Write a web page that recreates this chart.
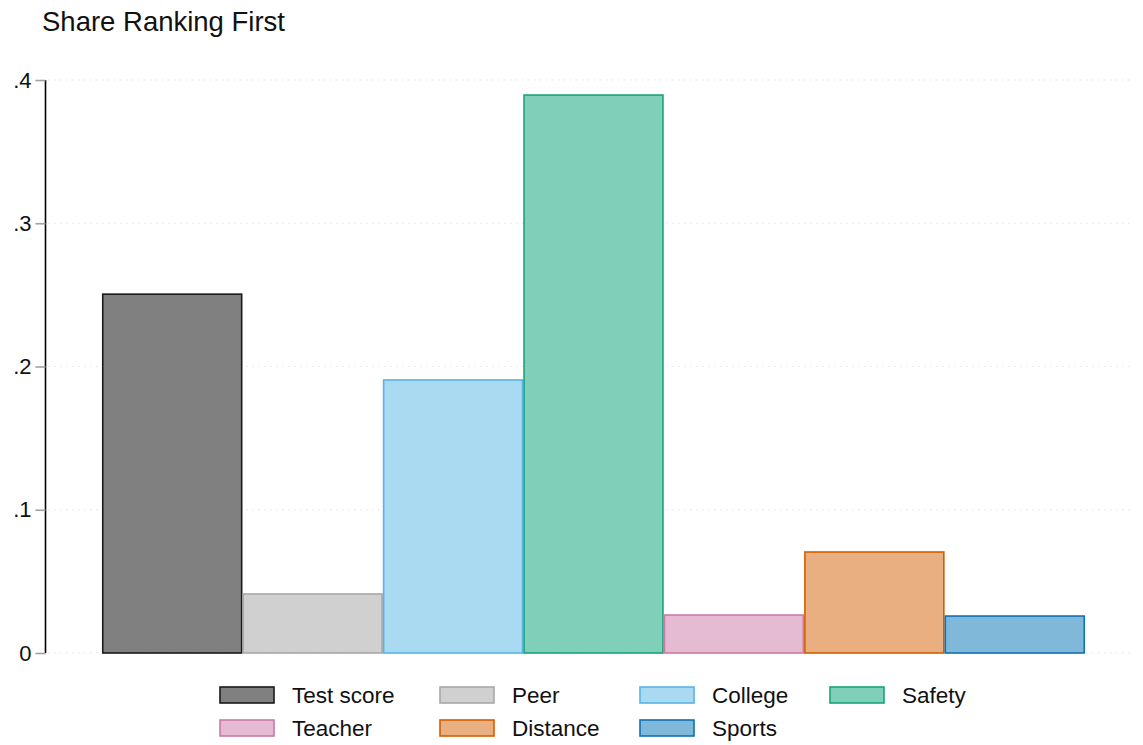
<!DOCTYPE html>
<html>
<head>
<meta charset="utf-8">
<script src="https://cdn.jsdelivr.net/npm/d3@7"></script>
<style>
  body { margin: 0; background: #fff; }
  svg { display: block; font-family: "Liberation Sans", Arial, sans-serif; }
</style>
</head>
<body>
<div id="chart"></div>
<script>
const categories = ["Test score", "Peer", "College", "Safety", "Teacher", "Distance", "Sports"];
const shares = [0.2505, 0.0412, 0.1906, 0.3895, 0.0265, 0.0705, 0.0258];
const y_ticks = [0, 0.1, 0.2, 0.3, 0.4];
const y_tick_labels = ["0", ".1", ".2", ".3", ".4"];
const fills = ["#808080", "#d0d0d0", "#aadaf2", "#80d0b9", "#e5bbd3", "#e9af81", "#80b8da"];
const strokes = ["#1a1a1a", "#a8a8a8", "#58b4e6", "#1aa37a", "#cc79a7", "#d55e00", "#0e72b2"];

const width = 1143;
const height = 745;

const svg = d3
  .select("#chart")
  .append("svg")
  .attr("width", width)
  .attr("height", height);

svg
  .append("text")
  .attr("x", 42)
  .attr("y", 31)
  .style("font-size", "27.5px")
  .style("fill", "#111")
  .text("Share Ranking First");

const y = d3
  .scaleLinear()
  .domain([0, 0.4])
  .range([653, 80]);

// bars sit inside the plot with outer gaps
const x = d3
  .scaleBand()
  .domain(categories)
  .range([102, 1085])
  .paddingInner(0);

// dotted gridlines
svg
  .append("g")
  .selectAll("line")
  .data(y_ticks)
  .enter()
  .append("line")
  .attr("x1", 48)
  .attr("x2", 1133)
  .attr("y1", (d) => y(d))
  .attr("y2", (d) => y(d))
  .attr("stroke", "#e3e3e3")
  .attr("stroke-width", 1)
  .attr("stroke-dasharray", "1.5,4.5");

const data = categories.map((c, i) => ({ cat: c, value: shares[i], i: i }));

svg
  .append("g")
  .selectAll("rect")
  .data(data)
  .enter()
  .append("rect")
  .attr("x", (d) => x(d.cat) + 0.75)
  .attr("y", (d) => y(d.value))
  .attr("width", x.bandwidth() - 1.5)
  .attr("height", (d) => y(0) - y(d.value))
  .attr("fill", (d) => fills[d.i])
  .attr("stroke", (d) => strokes[d.i])
  .attr("stroke-width", 1.6);

// y axis
const yAxis = svg
  .append("g")
  .attr("transform", "translate(45.5,0)")
  .call(
    d3
      .axisLeft(y)
      .tickValues(y_ticks)
      .tickSize(10)
      .tickPadding(4)
      .tickFormat((d, i) => y_tick_labels[i])
  );
yAxis.select(".domain").attr("stroke", "#000").attr("stroke-width", 1.6).attr("d", `M0,${y(0)}V${y(0.4)}`);
yAxis.selectAll(".tick line").attr("stroke", "#a0a0a0").attr("stroke-width", 1.6);
yAxis
  .selectAll(".tick text")
  .style("font-size", "22px")
  .style("font-family", "Liberation Sans, Arial, sans-serif")
  .attr("fill", "#111");

// legend
const legend_cols = [220, 440, 640, 830];
const legend_rows = [695, 728];
const legend = svg
  .append("g")
  .selectAll("g")
  .data(data)
  .enter()
  .append("g")
  .attr("transform", (d) => `translate(${legend_cols[d.i % 4]},${legend_rows[Math.floor(d.i / 4)]})`);

legend
  .append("rect")
  .attr("x", 0)
  .attr("y", -8)
  .attr("width", 54)
  .attr("height", 16)
  .attr("fill", (d) => fills[d.i])
  .attr("stroke", (d) => strokes[d.i])
  .attr("stroke-width", 1.6);

legend
  .append("text")
  .attr("x", 72)
  .attr("y", 8)
  .style("font-size", "22.5px")
  .attr("fill", "#111")
  .text((d) => d.cat);
</script>
</body>
</html>
